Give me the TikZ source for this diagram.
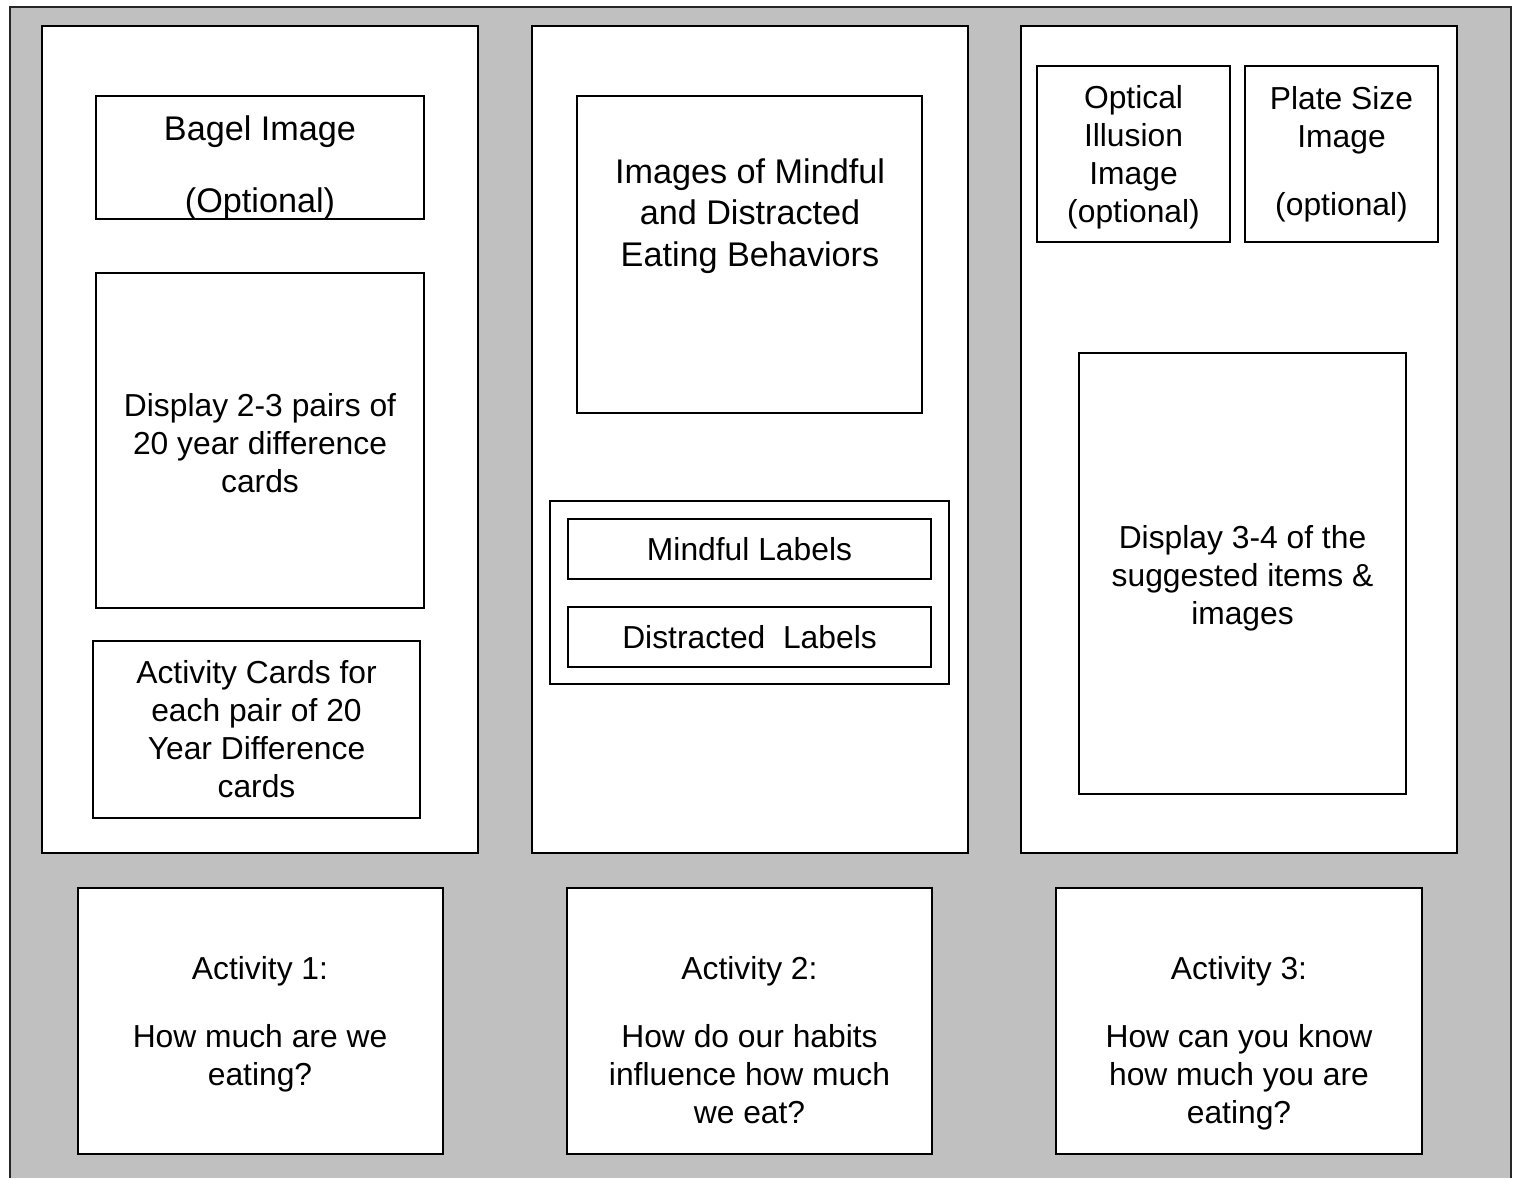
\documentclass[tikz,border=0pt]{standalone}
\usepackage{fontspec}
\setmainfont{Liberation Sans}
\definecolor{boardgray}{RGB}{192,192,192}

\begin{document}
\begin{tikzpicture}[x=0.5pt,y=-0.5pt,
    panel/.style={draw, fill=white, line width=1pt, inner sep=0pt},
    box/.style={draw, fill=white, line width=1pt, inner sep=0pt, align=center,
        font=\fontsize{15.9}{19}\selectfont},
    txt/.style={inner sep=0pt, align=center, font=\fontsize{15.9}{19}\selectfont},
    bigtxt/.style={txt, font=\fontsize{17.1}{20.7}\selectfont}]
    \useasboundingbox (0,0) rectangle (1518,1178);

    % Board
    \fill[boardgray] (10,7) rectangle (1511,1178);
    \draw[line width=1pt, black!85] (10,1178) -- (10,7) -- (1511,7) -- (1511,1178);

    % Panels
    \node[panel, minimum width=218pt, minimum height=413.5pt] (p1) at (260,439.5) {};
    \node[panel, minimum width=218pt, minimum height=413.5pt] (p2) at (750,439.5) {};
    \node[panel, minimum width=218pt, minimum height=413.5pt] (p3) at (1239,439.5) {};

    % Panel 1
    \node[box, minimum width=164pt, minimum height=61.5pt] (bagel) at (260,157.5) {};
    \node[bigtxt] (bageltxt) at (260,167.5) {Bagel Image\\[15.5pt](Optional)};
    \node[box, minimum width=164pt, minimum height=167.5pt] (pairs) at (260,440.5) {};
    \node[txt] (pairstxt) at (260,443)
        {Display 2-3 pairs of\\20 year difference\\cards};
    \node[box, minimum width=163.5pt, minimum height=88.5pt] (cards) at (256.5,729.5)
        {Activity Cards for\\each pair of 20\\Year Difference\\cards};

    % Panel 2
    \node[box, minimum width=172.5pt, minimum height=158.5pt] (images) at (749.5,254.5) {};
    \node[bigtxt] (imagestxt) at (750,216)
        {Images of Mindful\\and Distracted\\Eating Behaviors};
    \node[box, minimum width=199.5pt, minimum height=91.5pt] (labels) at (749.5,592.5) {};
    \node[box, minimum width=181.5pt, minimum height=30pt] (mindful) at (749.5,549) {Mindful Labels};
    \node[box, minimum width=181.5pt, minimum height=30pt] (distracted) at (749.5,637) {Distracted~~Labels};

    % Panel 3
    \node[box, minimum width=96.5pt, minimum height=88pt] (optical) at (1133.5,154) {};
    \node[txt] (opticaltxt) at (1133.5,157.5)
        {Optical\\Illusion\\Image\\(optional)};
    \node[box, minimum width=96.5pt, minimum height=88pt] (plate) at (1341.5,154)
        {Plate Size\\Image\\[15pt](optional)};
    \node[box, minimum width=163.5pt, minimum height=220.5pt] (items) at (1242.5,573.5) {};
    \node[txt] (itemstxt) at (1242.5,578.5)
        {Display 3-4 of the\\suggested items \&\\images};

    % Activities
    \node[box, minimum width=182.5pt, minimum height=133pt] (act1) at (260.5,1021) {};
    \node[box, minimum width=182.5pt, minimum height=133pt] (act2) at (749.5,1021) {};
    \node[box, minimum width=183pt, minimum height=133pt] (act3) at (1239,1021) {};
    \node[txt, anchor=north] (act1txt) at (260,956)
        {Activity 1:\\[15pt]How much are we\\eating?};
    \node[txt, anchor=north] (act2txt) at (749.5,956)
        {Activity 2:\\[15pt]How do our habits\\influence how much\\we eat?};
    \node[txt, anchor=north] (act3txt) at (1239,956)
        {Activity 3:\\[15pt]How can you know\\how much you are\\eating?};
\end{tikzpicture}
\end{document}
